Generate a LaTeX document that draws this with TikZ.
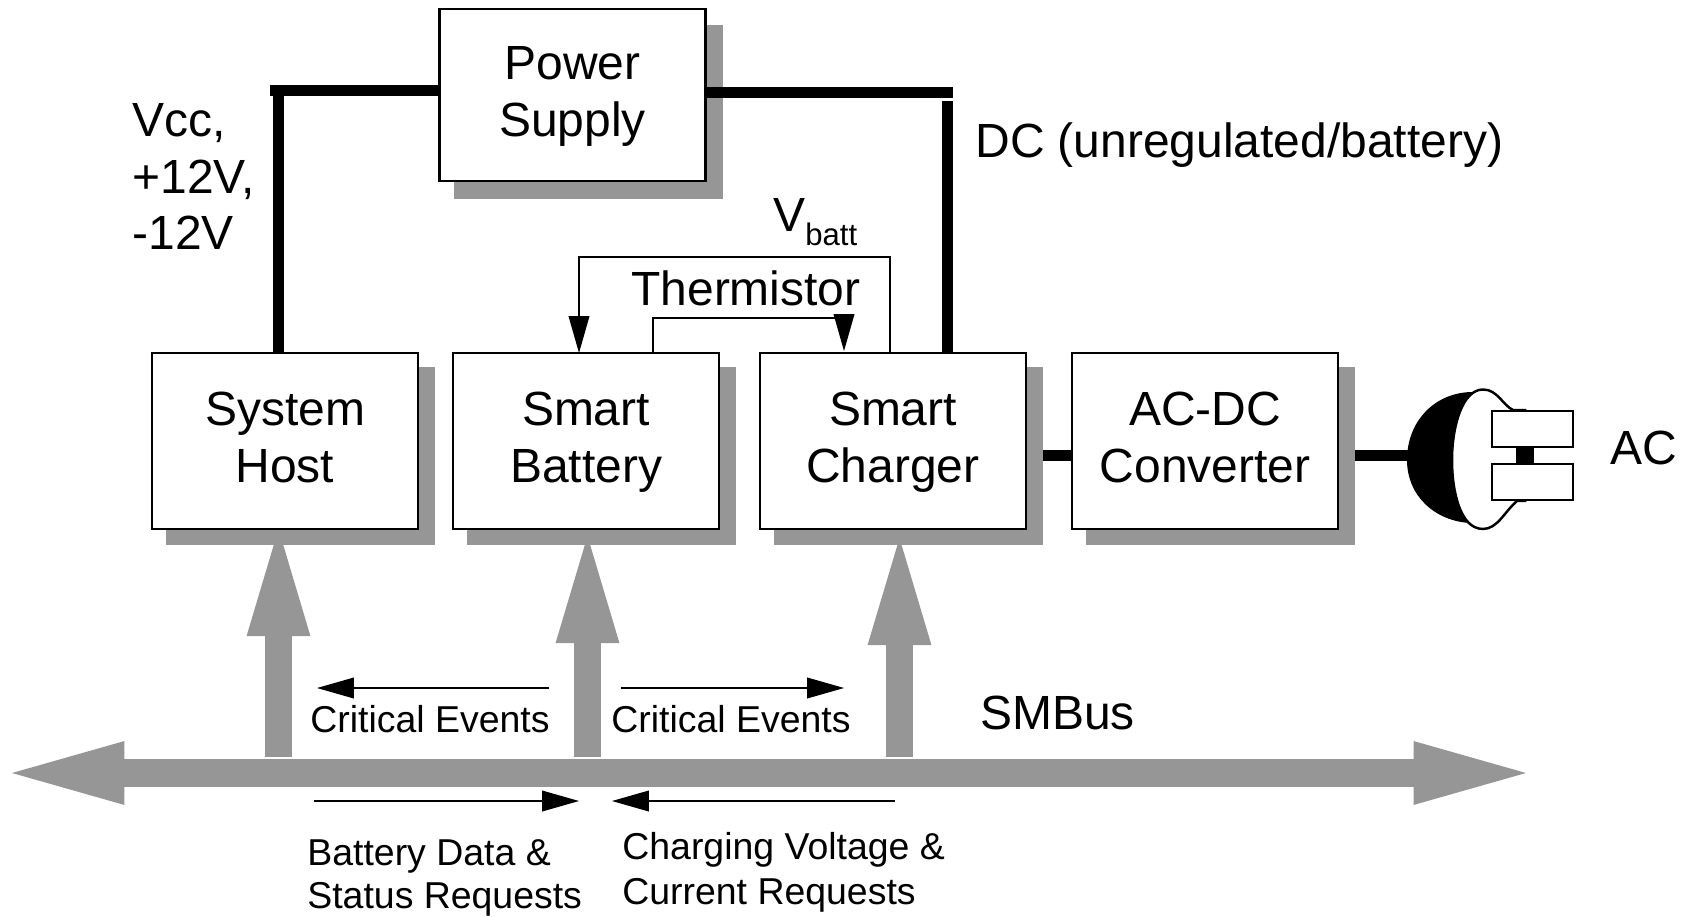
\documentclass[tikz,border=0pt]{standalone}
\usepackage{fontspec}
\setmainfont{Liberation Sans}
\usetikzlibrary{arrows.meta,shadows}
\definecolor{busgray}{RGB}{150,150,150}
\newcommand{\boxlines}[2]{\rule{0pt}{24.3pt}#1\\\strut #2}
\begin{document}
\begin{tikzpicture}[
  unit/.style={draw, line width=1.4pt, fill=white, minimum width=5.32cm, minimum height=3.52cm, inner sep=0pt, outer sep=0pt, align=center, font=\fontsize{27.3}{32}\selectfont, drop shadow={shadow scale=1.012, shadow xshift=0.31cm, shadow yshift=#1, fill=busgray, opacity=1}},
  unit/.default=-0.30cm,
  prong/.style={draw, line width=1.2pt, fill=white, minimum width=1.62cm, minimum height=0.72cm, inner sep=0pt, outer sep=0pt},
  label/.style={inner sep=0pt, anchor=base west, align=left, font=\fontsize{27.3}{32.2}\selectfont},
  small/.style={inner sep=0pt, anchor=base west, align=left, font=\fontsize{21.3}{24.3}\selectfont},
  rail/.style={line width=6.2pt},
  sense/.style={-{Triangle[length=21pt, width=12pt, line width=0pt]}, line width=1.4pt},
  feed/.style={-{Triangle[length=61pt, width=36.4pt, line width=0pt]}, line width=15.4pt, busgray},
  bus/.style={{Triangle[length=64pt, width=36.4pt, line width=0pt]}-{Triangle[length=64pt, width=36.4pt, line width=0pt]}, line width=15.4pt, busgray},
]
\useasboundingbox (0,0) rectangle (33.86,18.32);

% Bus and the arrows up to the units
\coordinate (buswest) at (0.24,2.86);
\coordinate (buseast) at (30.52,2.86);
\draw[bus] (buswest) -- (buseast);
\draw[feed] (5.57,3.18) -- (5.57,7.74);
\draw[feed] (11.75,3.18) -- (11.75,7.60);
\draw[feed] (17.99,3.18) -- (17.99,7.56);

% Links that pass under the shadows
\coordinate (cordplug) at (28.30,9.21);
\draw[rail] (17.85,9.21) -- (24.10,9.21);
\draw[rail] (24.10,9.21) -- (cordplug);

% Units
\node[unit=-0.34cm, minimum height=3.44cm] (power) at (11.45,16.42) {\boxlines{Power}{Supply}};
\node[unit] (host) at (5.70,9.50) {\boxlines{System}{Host}};
\node[unit] (battery) at (11.72,9.50) {\boxlines{Smart}{Battery}};
\node[unit] (charger) at (17.86,9.50) {\boxlines{Smart}{Charger}};
\node[unit] (converter) at (24.10,9.50) {\boxlines{AC-DC}{Converter}};

% Supply rails
\coordinate (railhost) at (5.40,16.51);
\coordinate (railcharger) at (19.06,16.47);
\coordinate (hosttop) at (5.57,16.51);
\coordinate (chargertop) at (18.95,16.30);
\draw[rail] (railhost) -- (railhost -| power.west);
\draw[rail] (hosttop) -- (hosttop |- host.north);
\draw[rail] (railcharger -| power.east) -- (railcharger);
\draw[rail] (chargertop) -- (chargertop |- charger.north);

% Sense lines
\coordinate (vbattsrc) at (17.80,11.26);
\coordinate (vbattdst) at (11.58,11.26);
\coordinate (thermsrc) at (13.06,11.26);
\coordinate (thermdst) at (16.88,11.30);
\draw[sense] (vbattsrc) -- (17.80,13.18) -- (11.58,13.18) -- (vbattdst);
\draw[sense] (thermsrc) -- (13.06,11.96) -- (16.88,11.96) -- (thermdst);

% Plug
\fill (29.46,10.48) .. controls (28.70,10.48) and (28.14,9.90) .. (28.14,9.12) .. controls (28.14,8.40) and (28.70,7.90) .. (29.40,7.86) -- cycle;
\draw[line width=1.4pt, fill=white] (29.66,10.53) .. controls (29.95,10.53) and (30.05,10.22) .. (30.26,10.12) -- (30.50,10.12) -- (30.50,8.30) -- (30.34,8.30) .. controls (30.10,8.10) and (29.95,7.74) .. (29.66,7.74) .. controls (29.20,7.74) and (29.04,8.50) .. (29.04,9.12) .. controls (29.04,9.80) and (29.25,10.53) .. (29.66,10.53) -- cycle;
\node[prong] (prongtop) at (30.65,9.74) {};
\node[prong] (prongbot) at (30.65,8.68) {};
\fill (30.32,9.04) rectangle (30.68,9.38);

% Labels
\node[label] (vcc) at (2.64,13.32) {Vcc,\\+12V,\\-12V};
\node[label] (dc) at (19.50,15.16) {DC (unregulated/battery)};
\node[label] (vbatt) at (15.46,13.68) {V\raisebox{-0.28cm}{\fontsize{17.7}{20}\selectfont batt}};
\node[label] (therm) at (12.62,12.20) {Thermistor};
\node[label] (ac) at (32.20,9.04) {AC};
\node[label] (smbus) at (19.60,3.74) {SMBus};

% Message arrows and their texts
\coordinate (evleft) at (10.98,4.56);
\coordinate (evright) at (12.42,4.56);
\draw[sense] (evleft) -- (6.34,4.56);
\draw[sense] (evright) -- (16.88,4.56);
\coordinate (datasrc) at (6.28,2.30);
\coordinate (chargesrc) at (17.90,2.30);
\draw[sense] (datasrc) -- (11.58,2.30);
\draw[sense] (chargesrc) -- (12.24,2.30);
\node[small] (evhost) at (6.20,3.68) {Critical Events};
\node[small] (evcharger) at (12.22,3.68) {Critical Events};
\node[small] (datareq) at (6.14,0.16) {Battery Data \&\\Status Requests};
\node[small] (chargereq) at (12.44,0.24) {Charging Voltage \&\\[1.2pt]Current Requests};
\end{tikzpicture}
\end{document}
